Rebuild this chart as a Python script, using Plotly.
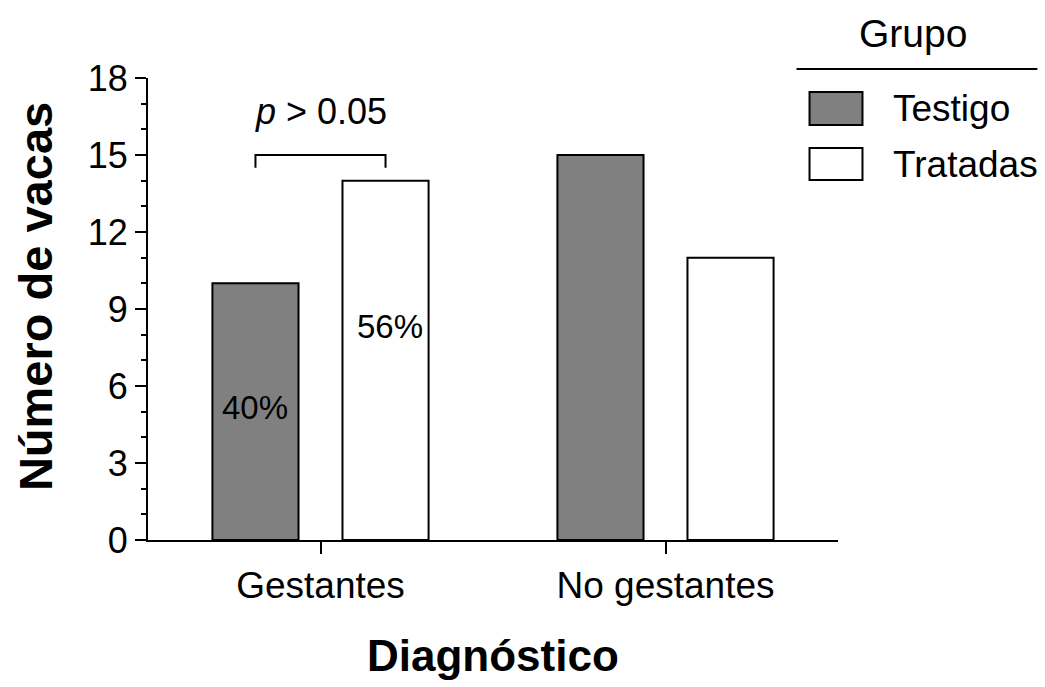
import plotly.graph_objects as go

# Data
categories = ["Gestantes", "No gestantes"]
groups = ["Testigo", "Tratadas"]
testigo = [10, 15]
tratadas = [14, 11]
colors = ["#808080", "#ffffff"]
p_label = "<i>p</i> > 0.05"
x_title = "<b>Diagnóstico</b>"
y_title = "<b>Número de vacas</b>"

FONT = "Liberation Sans, Arial, sans-serif"

# Plot-area geometry (pixels in the 1045x687 page)
W, H = 1045, 687
L, R, T, B = 148, 206.5, 78, 147
PW, PH = W - L - R, H - T - B


def px(x):
    return (x - L) / PW


def py(y):
    return (H - B - y) / PH


bargap = 0.246
bargroupgap = 0.338

fig = go.Figure()
for name, vals, col in zip(groups, [testigo, tratadas], colors):
    fig.add_trace(go.Bar(
        x=categories, y=vals, name=name,
        marker=dict(color=col, line=dict(color="black", width=2)),
        showlegend=False,
    ))

# Centres of the two bars inside a category group
slot = (1 - bargap) / 2
off = slot / 2

shapes = []
annotations = []

# Percent of each group that is pregnant
tot_t = sum(testigo)
tot_r = sum(tratadas)
pct_t = round(100 * testigo[0] / tot_t)
pct_r = round(100 * tratadas[0] / tot_r)
annotations.append(dict(x=-off, y=5.15, xref="x", yref="y", text=f"{pct_t}%",
                        showarrow=False, font=dict(size=33, color="black", family=FONT)))
annotations.append(dict(x=off + 0.012, y=8.3, xref="x", yref="y", text=f"{pct_r}%",
                        showarrow=False, font=dict(size=33, color="black", family=FONT)))

# Significance bracket
br_top, br_bot = 15.0, 14.5
shapes.append(dict(type="path", xref="x", yref="y",
                   path=f"M {-off},{br_bot} L {-off},{br_top} L {off},{br_top} L {off},{br_bot}",
                   line=dict(color="black", width=2)))
annotations.append(dict(x=0, y=16.7, xref="x", yref="y", text=p_label,
                        showarrow=False, font=dict(size=36, color="black", family=FONT)))

# Axis titles
annotations.append(dict(x=px(493), y=py(655), xref="paper", yref="paper", text=x_title,
                        showarrow=False, xanchor="center", yanchor="middle",
                        font=dict(size=44, color="black", family=FONT)))
annotations.append(dict(x=px(35), y=py(297), xref="paper", yref="paper", text=y_title,
                        textangle=-90, showarrow=False, xanchor="center", yanchor="middle",
                        font=dict(size=47, color="black", family=FONT)))

# Legend drawn by hand
annotations.append(dict(x=px(914), y=py(33), xref="paper", yref="paper", text="Grupo",
                        showarrow=False, xanchor="center", yanchor="middle",
                        font=dict(size=39, color="black", family=FONT)))
shapes.append(dict(type="line", xref="paper", yref="paper",
                   x0=px(797), x1=px(1038), y0=py(69), y1=py(69),
                   line=dict(color="black", width=2)))
leg_rows = [(92, 125), (148, 180)]
for (y0, y1), name, col in zip(leg_rows, groups, colors):
    shapes.append(dict(type="rect", xref="paper", yref="paper",
                       x0=px(810), x1=px(863), y0=py(y1), y1=py(y0),
                       fillcolor=col, line=dict(color="black", width=2)))
    annotations.append(dict(x=px(892), y=py((y0 + y1) / 2), xref="paper", yref="paper",
                            text=name, showarrow=False, xanchor="left", yanchor="middle",
                            font=dict(size=37, color="black", family=FONT)))

fig.update_layout(
    width=W, height=H,
    margin=dict(l=L, r=R, t=T, b=B, autoexpand=False),
    paper_bgcolor="white", plot_bgcolor="white",
    barmode="group", bargap=bargap, bargroupgap=bargroupgap,
    font=dict(family=FONT, color="black"),
    shapes=shapes, annotations=annotations,
    xaxis=dict(
        range=[-0.5, 1.5], showline=True, linecolor="black", linewidth=2,
        ticks="outside", ticklen=12, tickwidth=2, tickcolor="black",
        tickfont=dict(size=37, family=FONT, color="black"),
        showgrid=False, zeroline=False,
    ),
    yaxis=dict(
        range=[0, 18], tickvals=[0, 3, 6, 9, 12, 15, 18],
        showline=True, linecolor="black", linewidth=2,
        ticks="outside", ticklen=11, tickwidth=2, tickcolor="black",
        tickfont=dict(size=36, family=FONT, color="black"),
        minor=dict(ticks="outside", ticklen=5, tickwidth=2, tickcolor="black", dtick=1),
        showgrid=False, zeroline=False,
    ),
)

fig.write_html("out.html")
